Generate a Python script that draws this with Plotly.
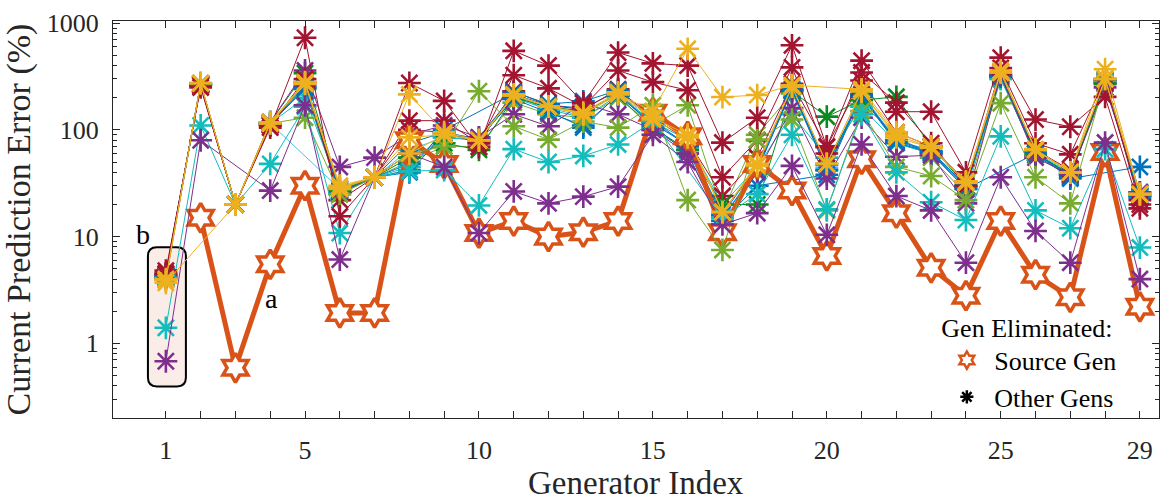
import plotly.graph_objects as go

# ---------------- data ----------------
gen_index = list(range(1, 30))
x_label_ticks = [1, 5, 10, 15, 20, 25, 29]
y_major_ticks = [1, 10, 100, 1000]
y_minor_ticks = [0.2, 0.3, 0.4, 0.5, 0.6, 0.7, 0.8, 0.9,
                 2, 3, 4, 5, 6, 7, 8, 9,
                 20, 30, 40, 50, 60, 70, 80, 90,
                 200, 300, 400, 500, 600, 700, 800, 900]

N = None
source_gen = [N, 15, 0.59, 5.5, 30, 1.93, 1.93, 80, 48, 10.8, 14, 10, 11, 14, 145,
              87, 11, 48, 27, 6.6, 53, 16.6, 5.1, 2.8, 14, 4.4, 2.7, 62, 2.2]

blue_1 = [4.0, 265, 20, 112, 250, 26, 36, 42, 100, N, 220, 150, 105, 215, 110,
          60, 13, 42, 235, 42, 205, 75, 60, 28, 310, 58, 36, 280, 23]
blue_2 = [4.2, 268, 20, 114, 255, 27, 36, 48, 88, 85, 215, 170, 160, 230, 105,
          65, 14, 30, N, 38, 215, 78, 62, 29, 320, 60, 37, 290, 24]
blue_3 = [4.1, 272, 20, 116, 265, 28, 36, 40, 92, 78, 225, 175, 185, 235, 125,
          70, 15, 42, 240, 42, 210, 76, 61, 28, N, 60, 38, 295, 24]
blue_4 = [4.3, 265, 20, 113, 245, 26, 36, 75, 95, 82, 195, 145, 110, 210, 115,
          72, 16, 47, 235, 47, 205, 80, 63, 30, 315, 61, 35, N, 45]
light_blue = [4.2, 270, 20, 115, N, 28, 36, 65, 85, 80, 205, 160, 135, 225, 115,
              75, 15, 44, 245, 44, 220, 80, 64, 30, 330, 62, 39, 285, 24]
dark_green = [4.3, 270, 20, 118, 340, 27, 36, 55, 75, 65, 200, 165, 150, 210, 100,
              65, 20, 20, 230, 133, 190, 204, 70, 30, 330, 60, 38, 270, 26]
green_1 = [4.1, 270, 20, 115, 130, 25, 36, 60, 70, 230, 108, 81, 120, 105, 170,
           22, 7.5, 81, 125, 17.6, 150, 45, 37, 22, 178, 36, 20.5, 300, 25]
green_2 = [4.2, 268, 20, 115, 240, 25, 36, 50, 70, 70, 180, 140, 130, 200, 110,
           170, 17, 90, 220, 48, 175, 90, 55, 25, 300, 64, 40, 280, 24]
red_1 = [4.8, 250, 20, 105, 730, 15.5, 36, 275, 187, 69, 550, 400, 178, 530, 420,
         400, 76, 130, 620, 69, 445, 148, 148, 40, 475, 125, 107, 204, 18.4]
red_2 = [4.5, 260, 20, 110, 300, 22, 36, 122, 122, 75, 325, 245, 165, 360, 280,
         235, 36, 80, 385, 60, 345, 180, 75, 30, 380, 75, 59, 300, 20]
red_3 = [4.5, 260, 20, 110, 280, 26, 36, 100, 95, 75, 230, 170, 155, 240, 130,
         80, 24, 55, 270, 70, 290, 95, 70, 33, 320, 65, 42, 270, 22]
cyan_2 = [4.2, 270, 20, 115, 200, 28, 36, 45, 85, 80, 200, 155, 130, 210, 120,
          80, 20, 45, 140, 55, 165, 75, 60, 30, 300, 60, 39, 280, 24]
purple_2 = [4.4, 270, 20, 118, 360, 45, 55, 90, 110, 85, 140, 108, 178, 140, 100,
            60, 13, 40, 160, 35, 130, 56, 58, 20.5, 330, 55, 38, 250, 26]
purple_low = [0.68, 80, N, 27, 170, 6.1, 36, 60, 45, 10.8, 26.5, 20.5, 23.7, 29.4, 90,
              50, 13, 16.6, 46, 10.4, 73, 24, 17.6, 5.7, 36, 11.3, 5.7, 76, 4.0]
cyan_low = [1.4, 110, 20, 48, 165, 10.8, 36, 41, 42, 19.6, 66, 50, 57, 73, 120,
            N, 15, 25, 90, 18, 140, 40, 21, 14.3, 87, 17.6, 12, 66, 7.9]
yellow_top = [3.9, 275, 20, 115, 270, 29, 36, 215, 95, 80, 210, 165, 140, 215, 150,
              575, 203, 212, 262, N, 240, 95, 70, 33, 360, 65, 40, 370, 25]
yellow_2 = [3.7, N, 20, 118, 280, 30, 36, 60, 90, 80, 210, 165, 140, 220, 125,
            85, 17, 48, 255, 48, 230, 85, 68, 32, 345, 65, 40, 300, 25]
yellow_3 = [4.0, 275, 20, 116, 275, 28, 36, 85, 90, 80, 215, 165, 145, 225, 130,
            90, 17, 46, 255, 48, 230, 90, 68, 32, 345, 66, 40, 300, 25]

BLUE, ORANGE, YELLOW, PURPLE = "#0072BD", "#D95319", "#EDB120", "#7E2F8E"
GREEN, LBLUE, RED, CYAN, DGREEN = "#77AC30", "#4DBEEE", "#A2142F", "#13BDBD", "#0A8A1E"

before_source = [
    (blue_1, BLUE), (green_2, GREEN), (light_blue, LBLUE), (blue_2, BLUE),
    (cyan_2, CYAN), (red_3, RED), (blue_3, BLUE), (dark_green, DGREEN),
    (blue_4, BLUE), (purple_2, PURPLE), (red_2, RED),
]
after_source = [
    (green_1, GREEN), (cyan_low, CYAN), (purple_low, PURPLE), (red_1, RED),
    (yellow_top, YELLOW), (yellow_3, YELLOW), (yellow_2, YELLOW),
]

FONT = "Liberation Serif"
TXT = "#262626"

fig = go.Figure()


def add_other(vals, col):
    fig.add_trace(go.Scatter(
        x=gen_index, y=vals, mode="lines+markers", connectgaps=True,
        line=dict(color=col, width=1),
        marker=dict(symbol="asterisk-open", size=19, color=col,
                    line=dict(color=col, width=2.6)),
        showlegend=False, hoverinfo="skip"))


for vals, col in before_source:
    add_other(vals, col)

fig.add_trace(go.Scatter(
    x=gen_index, y=source_gen, mode="lines+markers",
    line=dict(color=ORANGE, width=5),
    marker=dict(symbol="hexagram", size=22, color="white",
                line=dict(color=ORANGE, width=3.5)),
    showlegend=False, hoverinfo="skip"))

for vals, col in after_source:
    add_other(vals, col)

# legend-only entries
fig.add_trace(go.Scatter(
    x=[None], y=[None], mode="markers", name="Source Gen",
    marker=dict(symbol="hexagram", size=13, color="white",
                line=dict(color=ORANGE, width=2.5))))
fig.add_trace(go.Scatter(
    x=[None], y=[None], mode="markers", name="Other Gens",
    marker=dict(symbol="asterisk-open", size=11, color="black",
                line=dict(color="black", width=2.5))))

# rounded highlight box around generator 1 (paper coords)
x0p, x1p = 0.0334, 0.0697
y0p, y1p = 0.0796, 0.4303
rx, ry = 0.0086, 0.0224
path = (f"M {x0p+rx},{y1p} L {x1p-rx},{y1p} Q {x1p},{y1p} {x1p},{y1p-ry} "
        f"L {x1p},{y0p+ry} Q {x1p},{y0p} {x1p-rx},{y0p} "
        f"L {x0p+rx},{y0p} Q {x0p},{y0p} {x0p},{y0p+ry} "
        f"L {x0p},{y1p-ry} Q {x0p},{y1p} {x0p+rx},{y1p} Z")
fig.add_shape(type="path", path=path, xref="paper", yref="paper",
              fillcolor="#FAEDE8", line=dict(color="black", width=2),
              layer="below")

fig.add_annotation(x=0.1519, y=0.301, xref="paper", yref="paper", text="a",
                   xanchor="center", yanchor="middle",
                   showarrow=False, font=dict(size=28, color="black", family=FONT))
fig.add_annotation(x=0.0287, y=0.463, xref="paper", yref="paper", text="b",
                   xanchor="center", yanchor="middle",
                   showarrow=False, font=dict(size=28, color="black", family=FONT))
# x-axis title placed as text below the tick labels
fig.add_annotation(x=0.5, y=-0.164, xref="paper", yref="paper", text="Generator Index",
                   xanchor="center", yanchor="middle",
                   showarrow=False, font=dict(size=33, color=TXT, family=FONT))

fig.update_layout(
    width=1169, height=503,
    margin=dict(l=113, r=9, t=16, b=85),
    paper_bgcolor="white", plot_bgcolor="white",
    font=dict(family=FONT, color=TXT, size=26),
    legend=dict(
        title=dict(text="Gen Eliminated:", font=dict(size=26, color="black", family=FONT)),
        font=dict(size=26, color="black", family=FONT),
        x=0.79, y=0.29, xanchor="left", yanchor="top",
        bgcolor="rgba(0,0,0,0)", borderwidth=0, itemwidth=45, tracegroupgap=0,
    ),
)

fig.update_xaxes(
    range=[-0.52, 29.55],
    tickmode="array", tickvals=gen_index,
    ticktext=[str(i) if i in x_label_ticks else "" for i in gen_index],
    ticks="inside", ticklen=7, tickwidth=1, tickcolor=TXT,
    showline=True, linecolor=TXT, linewidth=1.3, mirror="ticks",
    showgrid=False, zeroline=False,
    tickfont=dict(size=26, family=FONT, color=TXT),
    ticklabelstandoff=9,
)
fig.update_yaxes(
    type="log", range=[-0.699, 3.02],
    tickmode="array", tickvals=y_major_ticks, ticktext=[str(v) for v in y_major_ticks],
    ticks="inside", ticklen=7, tickwidth=1, tickcolor=TXT,
    minor=dict(tickmode="array", tickvals=y_minor_ticks, ticks="inside",
               ticklen=4, tickcolor=TXT, showgrid=False),
    showline=True, linecolor=TXT, linewidth=1.3, mirror="ticks",
    showgrid=False, zeroline=False,
    tickfont=dict(size=26, family=FONT, color=TXT),
    ticklabelstandoff=8,
    title=dict(text="Current Prediction Error (%)", font=dict(size=34, family=FONT, color=TXT),
               standoff=10),
)

fig.write_html("out.html")
